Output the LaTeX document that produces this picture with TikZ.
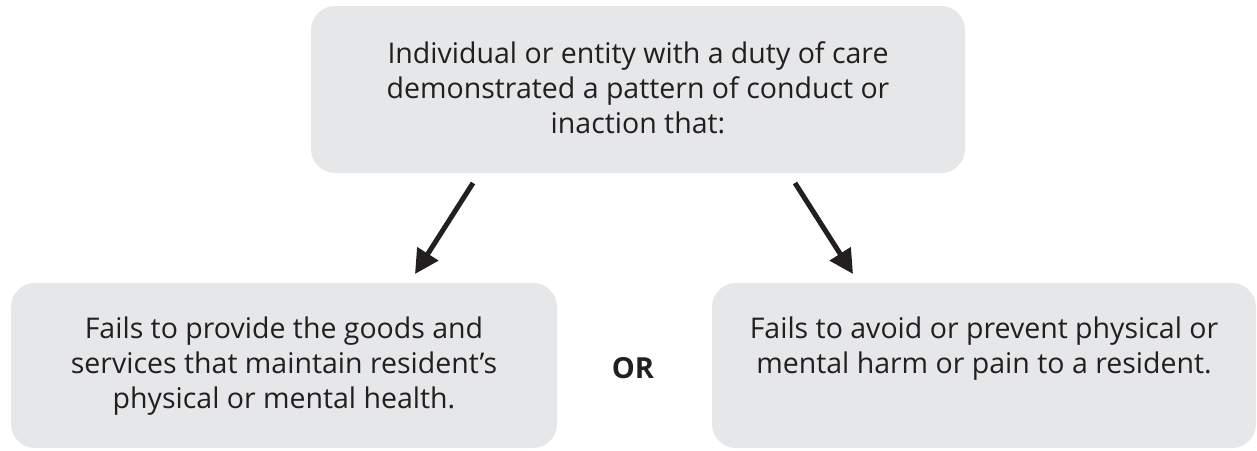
\documentclass[tikz,border=0pt]{standalone}
\usepackage{fontspec}
\setmainfont{Open Sans}
\usetikzlibrary{arrows.meta}
\definecolor{boxgray}{HTML}{E6E7E8}
\definecolor{ink}{HTML}{231F20}
\begin{document}
\begin{tikzpicture}[x=1pt,y=-1pt,
  box/.style={fill=boxgray, rounded corners=24pt, draw=none},
  txt/.style={align=center, font=\fontsize{28.5}{35}\selectfont, text=ink, anchor=north, inner sep=0pt},
  arr/.style={draw=ink, line width=5pt, -{Triangle[length=24pt,width=24pt]}}]
\useasboundingbox (0,0) rectangle (1257,450);
\fill[box] (311,6) rectangle (965,173);
\node (top) at (638,89.5) {};
\fill[box] (11,283) rectangle (557,448);
\node (left) at (284,365.5) {};
\fill[box] (712,283) rectangle (1256,448);
\node (right) at (984,365.5) {};
\node[txt] (toptxt) at (638,41) {Individual or entity with a duty of care\\demonstrated a pattern of conduct or\\inaction that:};
\node[txt] (lefttxt) at (284,317) {Fails to provide the goods and\\services that maintain resident’s\\physical or mental health.};
\node[txt] (righttxt) at (984,317) {Fails to avoid or prevent physical or\\mental harm or pain to a resident.};
\node[font=\fontsize{29}{30}\selectfont\bfseries, text=ink] (or) at (633,368) {OR};
\coordinate (a1s) at (473,183);
\coordinate (a1e) at (415,274);
\coordinate (a2s) at (795,183);
\coordinate (a2e) at (853,274);
\draw[arr] (a1s) -- (a1e);
\draw[arr] (a2s) -- (a2e);
\end{tikzpicture}
\end{document}
